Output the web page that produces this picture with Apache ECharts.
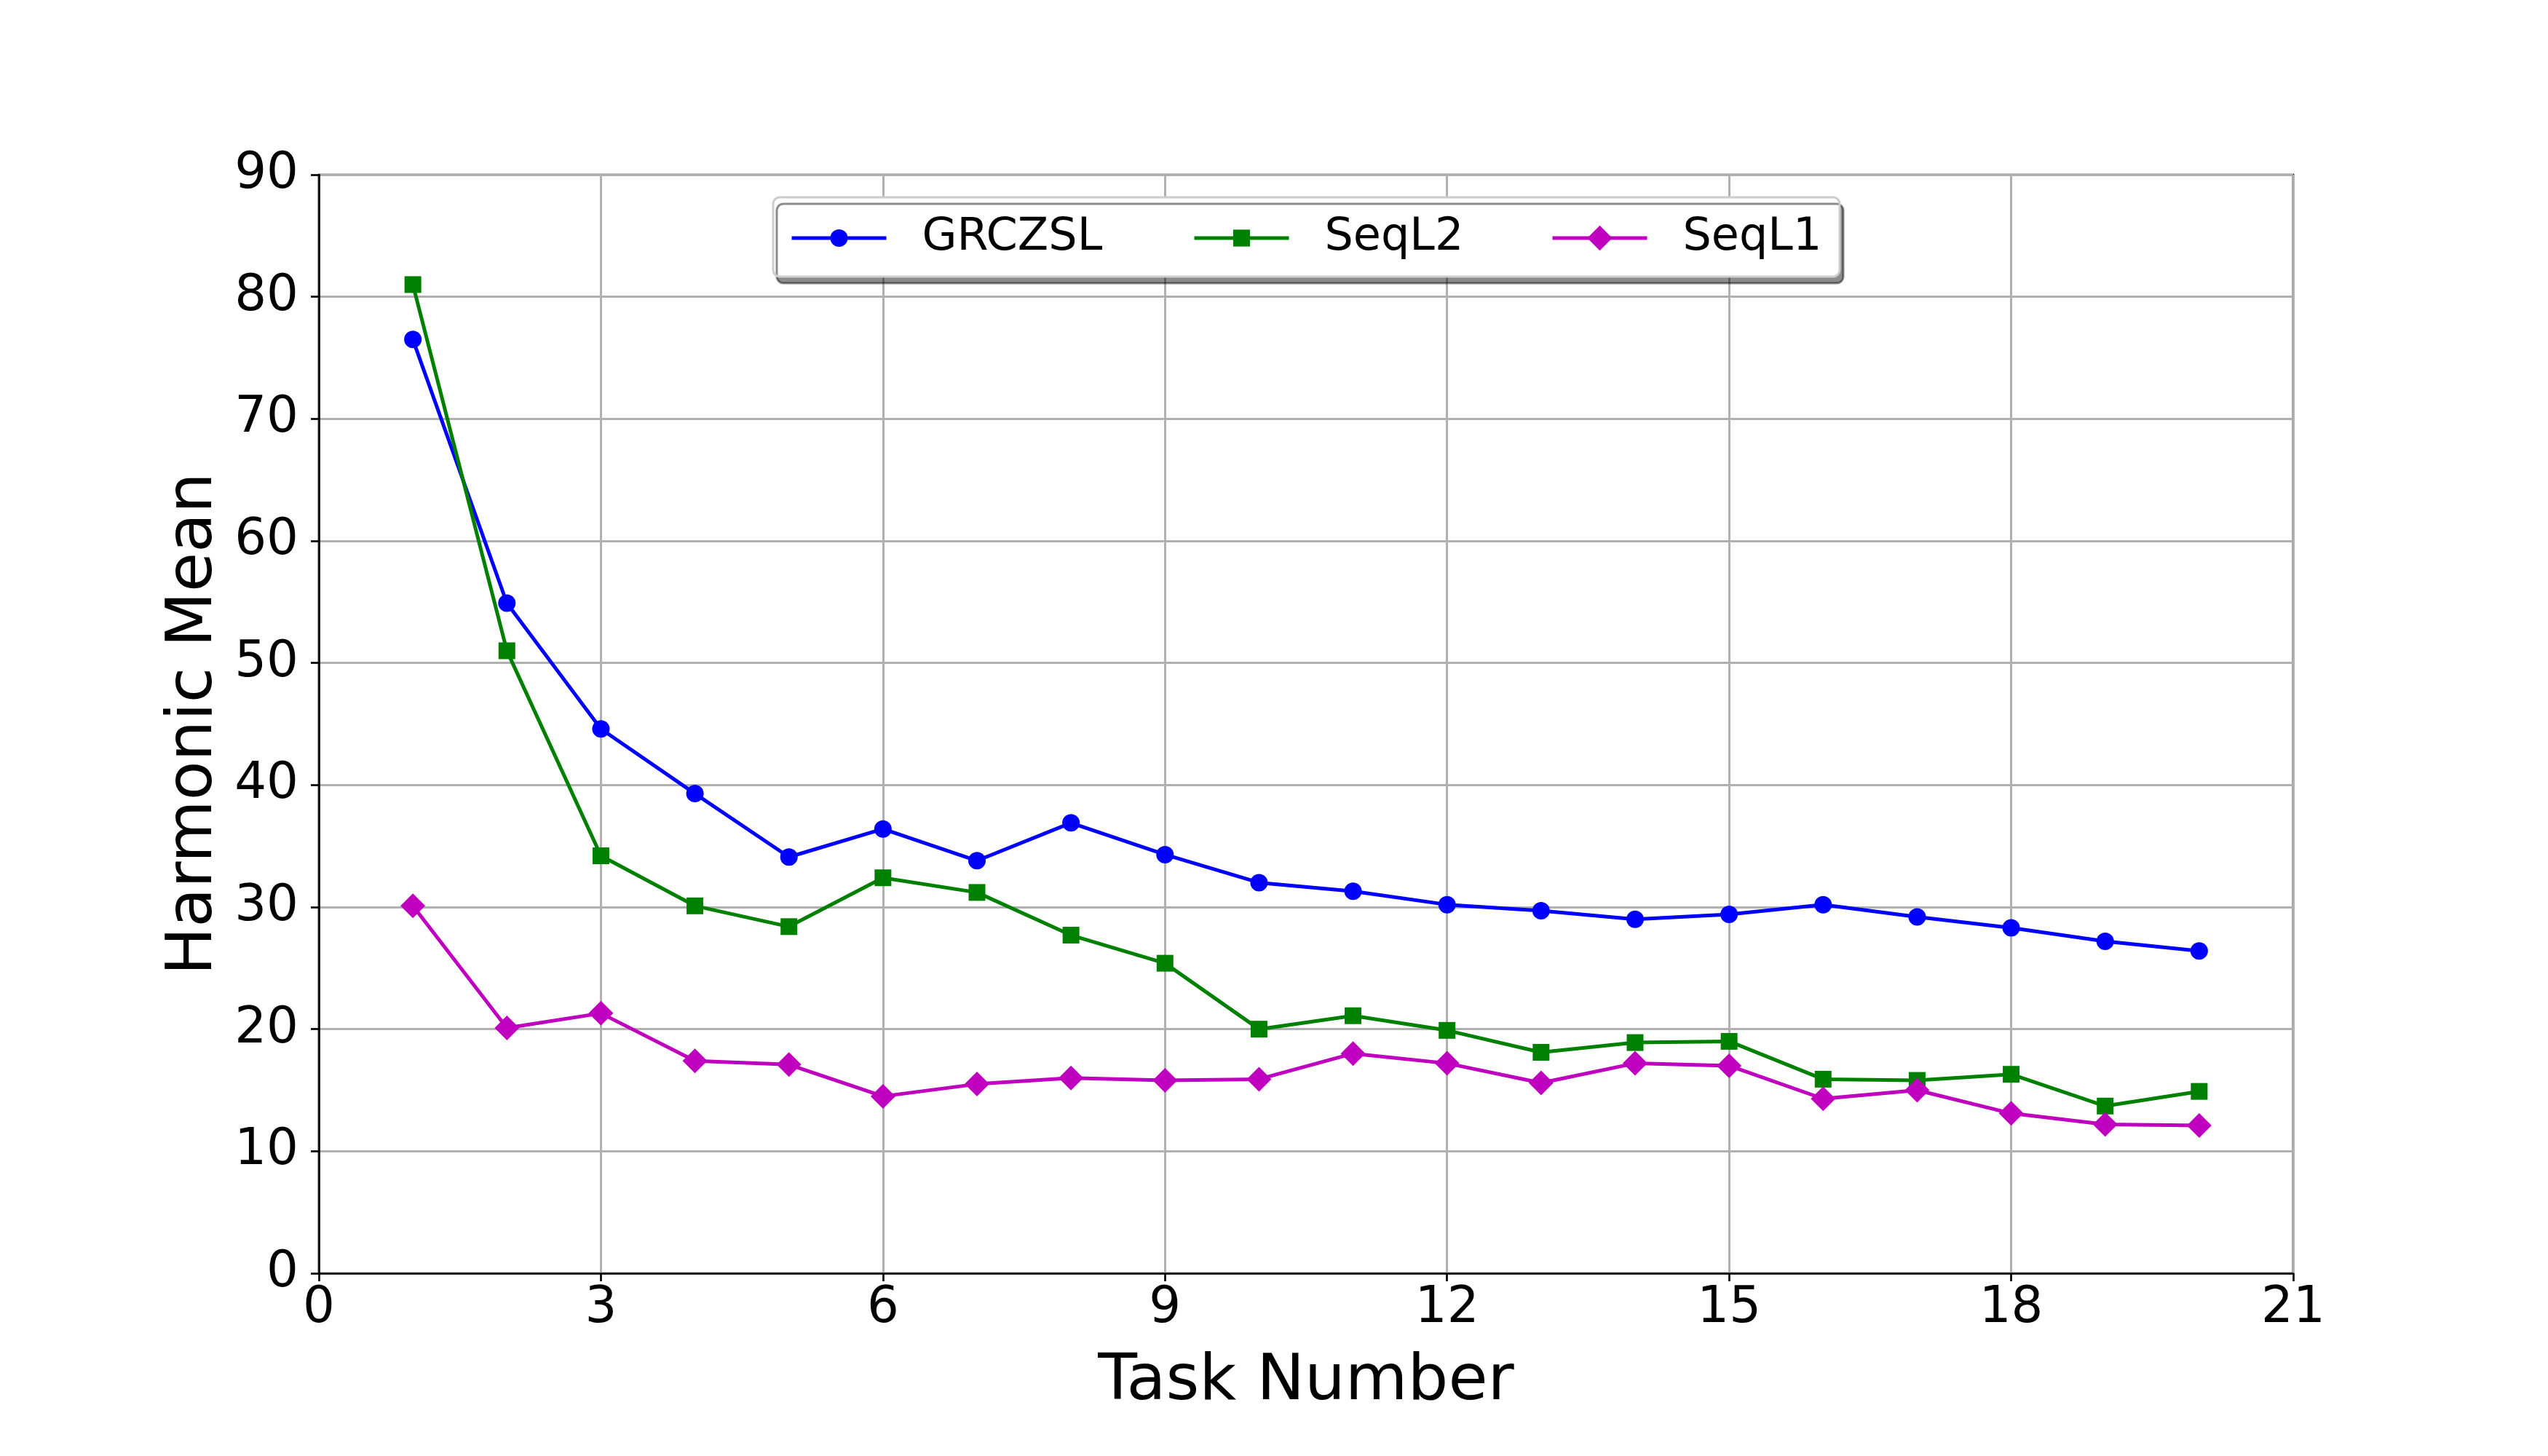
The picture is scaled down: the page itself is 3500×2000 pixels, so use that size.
<!DOCTYPE html>
<html>
<head>
    <meta charset="utf-8" />
    <title>Harmonic Mean per task</title>
    <script src="https://cdn.jsdelivr.net/npm/echarts@6/dist/echarts.min.js"></script>
    <style>
        body { margin: 0; background: #fff; }
    </style>
</head>
<body>
    <div id="main" style="width: 3500px;height:2000px;"></div>

    <script type="text/javascript">
        // task numbers 1..20
        var tasks = [1, 2, 3, 4, 5, 6, 7, 8, 9, 10, 11, 12, 13, 14, 15, 16, 17, 18, 19, 20];

        // values
        var grczsl = [76.5, 54.9, 44.6, 39.3, 34.1, 36.4, 33.8, 36.9, 34.3, 32.0,
                      31.3, 30.2, 29.7, 29.0, 29.4, 30.2, 29.2, 28.3, 27.2, 26.4];
        var seqL2 = [81.0, 51.0, 34.2, 30.1, 28.4, 32.4, 31.2, 27.7, 25.4, 20.0,
                     21.1, 19.9, 18.1, 18.9, 19.0, 15.9, 15.8, 16.3, 13.7, 14.9];
        var seqL1 = [30.1, 20.1, 21.3, 17.4, 17.1, 14.5, 15.5, 16.0, 15.8, 15.9,
                     18.0, 17.2, 15.6, 17.2, 17.0, 14.3, 15.0, 13.1, 12.2, 12.1];

        var FONT = 'DejaVu Sans';

        function pairs(vals) {
            return tasks.map(function (t, i) { return [t, vals[i]]; });
        }

        function lineSeries(name, vals, color, symbol, size) {
            return {
                name: name,
                type: 'line',
                data: pairs(vals),
                symbol: symbol,
                symbolSize: size,
                showAllSymbol: true,
                lineStyle: { color: color, width: 5 },
                itemStyle: { color: color },
                emphasis: { disabled: true },
                animation: false
            };
        }

        // one legend per entry so every marker keeps its own size
        // (echarts draws the legend symbol at 80% of itemHeight)
        function legendEntry(name, left, iconHeight) {
            return {
                left: left,
                top: 296,
                padding: 0,
                itemWidth: 130,
                itemHeight: iconHeight,
                lineStyle: { width: 5 },
                textStyle: {
                    fontFamily: FONT,
                    fontSize: 62,
                    color: '#000',
                    padding: [0, 0, 0, 44]
                },
                data: [name]
            };
        }

        var myChart = echarts.init(document.getElementById('main'));

        var option = {
            backgroundColor: '#fff',
            animation: false,
            grid: {
                left: 438, right: 350, top: 240, bottom: 251,
                show: true,
                borderColor: '#000',
                borderWidth: 2.7,
                backgroundColor: 'transparent'
            },
            // legend frame with matplotlib-like drop shadow
            graphic: [{
                type: 'rect',
                z: 3,
                shape: { x: 1062, y: 271, width: 1465, height: 109, r: 9 },
                style: {
                    fill: '#fff',
                    stroke: '#cccccc',
                    lineWidth: 3,
                    shadowColor: 'rgba(0,0,0,0.45)',
                    shadowBlur: 0,
                    shadowOffsetX: 5,
                    shadowOffsetY: 9
                },
                silent: true
            }],
            legend: [
                legendEntry('GRCZSL', 1085, 30),
                legendEntry('SeqL2', 1638, 29),
                legendEntry('SeqL1', 2130, 43)
            ],
            xAxis: {
                type: 'value',
                min: 0,
                max: 21,
                interval: 3,
                name: 'Task Number',
                nameLocation: 'middle',
                nameGap: 106,
                nameTextStyle: { fontFamily: FONT, fontSize: 88, color: '#000' },
                axisLine: { show: true, lineStyle: { color: '#000', width: 2.7 } },
                axisTick: { show: true, length: 11, lineStyle: { color: '#000', width: 2.7 } },
                axisLabel: { fontFamily: FONT, fontSize: 69, color: '#000', margin: 15 },
                splitLine: { show: true, lineStyle: { color: '#b0b0b0', width: 3 } }
            },
            yAxis: {
                type: 'value',
                min: 0,
                max: 90,
                interval: 10,
                name: 'Harmonic Mean',
                nameLocation: 'middle',
                nameGap: 125,
                nameTextStyle: { fontFamily: FONT, fontSize: 88, color: '#000' },
                axisLine: { show: true, lineStyle: { color: '#000', width: 2.7 } },
                axisTick: { show: true, length: 11, lineStyle: { color: '#000', width: 2.7 } },
                axisLabel: { fontFamily: FONT, fontSize: 69, color: '#000', margin: 28 },
                splitLine: { show: true, lineStyle: { color: '#b0b0b0', width: 3 } }
            },
            series: [
                lineSeries('GRCZSL', grczsl, '#0000ff', 'circle', 24),
                lineSeries('SeqL2', seqL2, '#008000', 'rect', 23),
                lineSeries('SeqL1', seqL1, '#bf00bf', 'diamond', 34)
            ]
        };

        myChart.setOption(option);
    </script>
</body>
</html>
